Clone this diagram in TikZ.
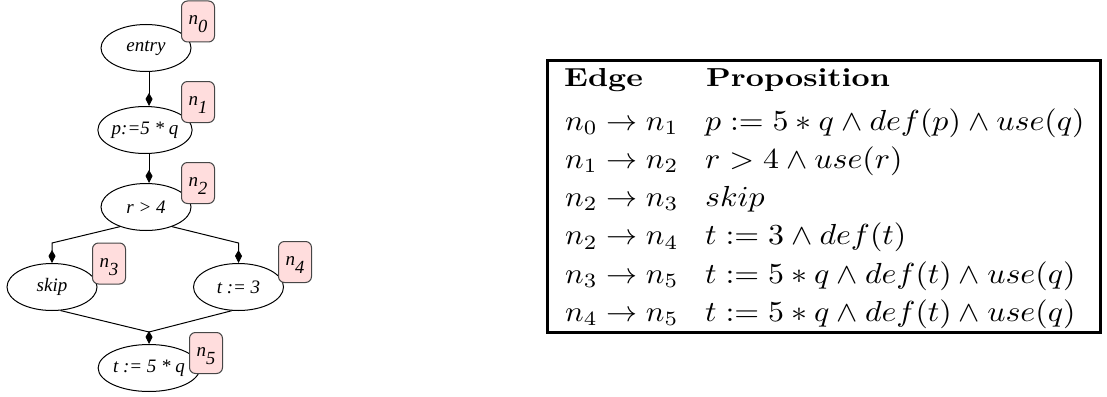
\documentclass[tikz,border=0pt]{standalone}
\usepackage{fontspec}
\newfontfamily\tms{Liberation Serif}
\usetikzlibrary{arrows.meta,shapes.geometric}
\definecolor{pinkfill}{RGB}{255,221,221}
\definecolor{boxedge}{RGB}{70,70,70}
\tikzset{
  blk/.style={ellipse, draw, line width=1pt, minimum width=90pt, minimum height=47pt, inner sep=0pt,
    font=\tms\itshape\fontsize{19}{19}\selectfont},
  lbl/.style={draw=boxedge, fill=pinkfill, rounded corners=6pt, line width=1pt,
    minimum width=33pt, minimum height=41pt, inner sep=0pt, text height=15pt, text depth=8pt,
    font=\tms\itshape\fontsize{19}{19}\selectfont},
  cflow/.style={line width=1pt, -{Kite[length=13pt,width=7pt,inset=6pt]}},
  cline/.style={line width=1pt},
  tx/.style={anchor=base west, inner sep=0pt, font=\fontsize{10}{12}\selectfont},
}
\newcommand{\nlab}[1]{n\raisebox{-8pt}{\fontsize{18.5}{18.5}\selectfont #1}}
\newcommand{\thead}[1]{\scalebox{3.15}[2.6]{\textbf{#1}}}
\newcommand{\tedge}[1]{\scalebox{3.1}[2.9]{$#1$}}
\newcommand{\tprop}[1]{\scalebox{3.19}[2.9]{$#1$}}
\begin{document}
\begin{tikzpicture}[x=1pt,y=-1pt]
\useasboundingbox (0,0) rectangle (1107,396);
% graph nodes
\node[blk] (entry) at (146,48) {entry};
\node[blk] (p) at (145,130) {p:=5 * q};
\node[blk] (r) at (146,207) {r > 4};
\node[blk] (skip) at (52,287) {skip};
\node[blk] (t3) at (238.5,287) {t := 3};
\node[blk] (t5) at (149,368) {t := 5 * q};
% labels
\node[lbl] (l0) at (198,21.5) {\nlab{0}};
\node[lbl] (l1) at (198,102) {\nlab{1}};
\node[lbl] (l2) at (198,183) {\nlab{2}};
\node[lbl] (l3) at (109,263.5) {\nlab{3}};
\node[lbl] (l4) at (295,262) {\nlab{4}};
\node[lbl] (l5) at (206,353) {\nlab{5}};
% connectors
\coordinate (bl) at (52,243);
\coordinate (br) at (238.5,243);
\coordinate (jn) at (149,332);
\draw[cflow] ([xshift=3pt]entry.south) -- ([xshift=4pt]p.north);
\draw[cflow] ([xshift=4pt]p.south) -- ([xshift=3pt]r.north);
\draw[cflow] (r.217) -- (bl) -- (skip.north);
\draw[cflow] (r.323) -- (br) -- (t3.north);
\draw[cline] (t3.254) -- (jn);
\draw[cflow] (skip.290) -- (jn) -- (t5.north);
% table
\draw[line width=3pt] (547.5,60.5) rectangle (1100.5,332.5);
\node[tx] (hE) at (564,86.5) {\thead{Edge}};
\node[tx] (hP) at (706,86.5) {\thead{Proposition}};
\node[tx] (e1) at (565,130) {\tedge{n_0 \rightarrow n_1}};
\node[tx] (p1) at (705,130) {\tprop{p := 5 * q \wedge def(p) \wedge use(q)}};
\node[tx] (e2) at (565,168.3) {\tedge{n_1 \rightarrow n_2}};
\node[tx] (p2) at (705,168.3) {\tprop{r > 4 \wedge use(r)}};
\node[tx] (e3) at (565,206.6) {\tedge{n_2 \rightarrow n_3}};
\node[tx] (p3) at (705,206.6) {\tprop{skip}};
\node[tx] (e4) at (565,244.9) {\tedge{n_2 \rightarrow n_4}};
\node[tx] (p4) at (705,244.9) {\tprop{t := 3 \wedge def(t)}};
\node[tx] (e5) at (565,283.2) {\tedge{n_3 \rightarrow n_5}};
\node[tx] (p5) at (705,283.2) {\tprop{t := 5 * q \wedge def(t) \wedge use(q)}};
\node[tx] (e6) at (565,321.5) {\tedge{n_4 \rightarrow n_5}};
\node[tx] (p6) at (705,321.5) {\tprop{t := 5 * q \wedge def(t) \wedge use(q)}};
\end{tikzpicture}
\end{document}
